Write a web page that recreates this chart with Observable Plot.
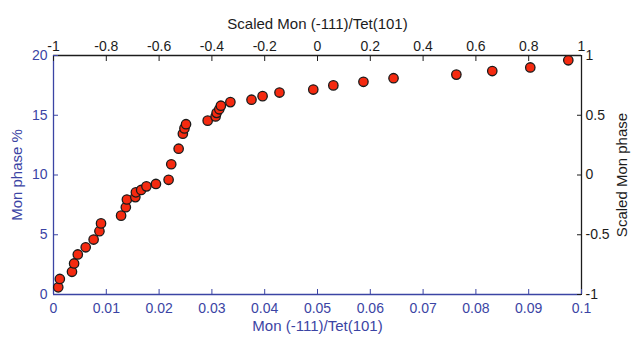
<!DOCTYPE html>
<html>
<head>
<meta charset="utf-8">
<script src="https://cdn.jsdelivr.net/npm/d3@7"></script>
<script src="https://cdn.jsdelivr.net/npm/@observablehq/plot@0.6"></script>
<style>
  html, body { margin: 0; padding: 0; background: #fff; }
  #chart svg { display: block; }
</style>
</head>
<body>
<div id="chart"></div>
<script>
// Mon(-111)/Tet(101) peak ratio vs. monoclinic phase content
const monRatio = [0.0009, 0.0012, 0.0035, 0.0039, 0.0046, 0.0061, 0.0076, 0.0087, 0.0090, 0.0128,
  0.0137, 0.0139, 0.0155, 0.0156, 0.0166, 0.0176, 0.0194, 0.0218, 0.0223, 0.0237,
  0.0245, 0.0248, 0.0251, 0.0292, 0.0307, 0.0309, 0.0314, 0.0317, 0.0335, 0.0375,
  0.0396, 0.0428, 0.0492, 0.0530, 0.0587, 0.0644, 0.0763, 0.0831, 0.0903, 0.0975];
const monPhase = [0.6, 1.3, 1.9, 2.6, 3.35, 3.95, 4.6, 5.3, 5.95, 6.6,
  7.3, 7.95, 8.15, 8.55, 8.75, 9.05, 9.25, 9.6, 10.9, 12.2,
  13.45, 13.9, 14.25, 14.55, 14.9, 15.2, 15.5, 15.8, 16.1, 16.3,
  16.6, 16.9, 17.15, 17.5, 17.8, 18.1, 18.4, 18.7, 19.0, 19.6];

// primary axes
const bottomTicks = [0, 0.01, 0.02, 0.03, 0.04, 0.05, 0.06, 0.07, 0.08, 0.09, 0.1];
const leftTicks = [0, 5, 10, 15, 20];
// secondary (scaled, -1..1) axes
const topTicks = [-1, -0.8, -0.6, -0.4, -0.2, 0, 0.2, 0.4, 0.6, 0.8, 1];
const rightTicks = [-1, -0.5, 0, 0.5, 1];

const bottomTitle = "Mon (-111)/Tet(101)";
const leftTitle = "Mon phase %";
const topTitle = "Scaled Mon (-111)/Tet(101)";
const rightTitle = "Scaled Mon phase";

const xDomain = [0, 0.1];
const yDomain = [0, 20];
// map a scaled value (-1..1) onto the primary domain
const unscale = (s, [a, b]) => a + (s + 1) / 2 * (b - a);
const fmt = (v) => String(v);

const blue = "#3b44a4";
const dark = "#1c1c1c";
const data = monRatio.map((x, i) => ({x, y: monPhase[i]}));

const topPos = topTicks.map(s => unscale(s, xDomain));
const rightPos = rightTicks.map(s => unscale(s, yDomain));
const topLabel = new Map(topPos.map((p, i) => [p, fmt(topTicks[i])]));
const rightLabel = new Map(rightPos.map((p, i) => [p, fmt(rightTicks[i])]));

const chart = Plot.plot({
  width: 634,
  height: 340,
  marginLeft: 53,
  marginRight: 53,
  marginTop: 55,
  marginBottom: 46,
  style: {fontFamily: "'Liberation Sans', Arial, sans-serif", fontSize: "14px", background: "#fff"},
  x: {domain: xDomain},
  y: {domain: yDomain},
  marks: [
    // frame lines
    Plot.ruleY([yDomain[0]], {stroke: blue, strokeWidth: 1.3}),
    Plot.ruleX([xDomain[0]], {stroke: blue, strokeWidth: 1.3}),
    Plot.ruleY([yDomain[1]], {stroke: dark, strokeWidth: 1.3}),
    Plot.ruleX([xDomain[1]], {stroke: dark, strokeWidth: 1.3}),
    // bottom axis
    Plot.axisX({anchor: "bottom", ticks: bottomTicks, tickFormat: fmt, tickSize: -5, tickPadding: 14,
      color: blue, stroke: blue, label: null, fontSize: 14}),
    // left axis
    Plot.axisY({anchor: "left", ticks: leftTicks, tickFormat: fmt, tickSize: -5, tickPadding: 11,
      color: blue, stroke: blue, label: null, fontSize: 14}),
    // top (scaled) axis
    Plot.axisX({anchor: "top", ticks: topPos, tickFormat: d => topLabel.get(d), tickSize: -5, tickPadding: 10,
      color: dark, stroke: dark, label: null, fontSize: 14}),
    // right (scaled) axis
    Plot.axisY({anchor: "right", ticks: rightPos, tickFormat: d => rightLabel.get(d), tickSize: -5, tickPadding: 9,
      color: dark, stroke: dark, label: null, fontSize: 14}),
    // axis titles
    Plot.text([bottomTitle], {frameAnchor: "bottom", dy: 36, fill: blue, fontSize: 15, text: d => d}),
    Plot.text([topTitle], {frameAnchor: "top", dy: -37, fill: dark, fontSize: 15, text: d => d}),
    Plot.text([leftTitle], {frameAnchor: "left", dx: -36, rotate: -90, textAnchor: "middle", fill: blue, fontSize: 15, text: d => d}),
    Plot.text([rightTitle], {frameAnchor: "right", dx: 41, rotate: -90, textAnchor: "middle", fill: dark, fontSize: 15, text: d => d}),
    // samples
    Plot.dot(data, {x: "x", y: "y", r: 4.7, fill: "#f52a10", stroke: "#1a1a1a", strokeWidth: 1.3})
  ]
});

document.getElementById("chart").appendChild(chart);
</script>
</body>
</html>
